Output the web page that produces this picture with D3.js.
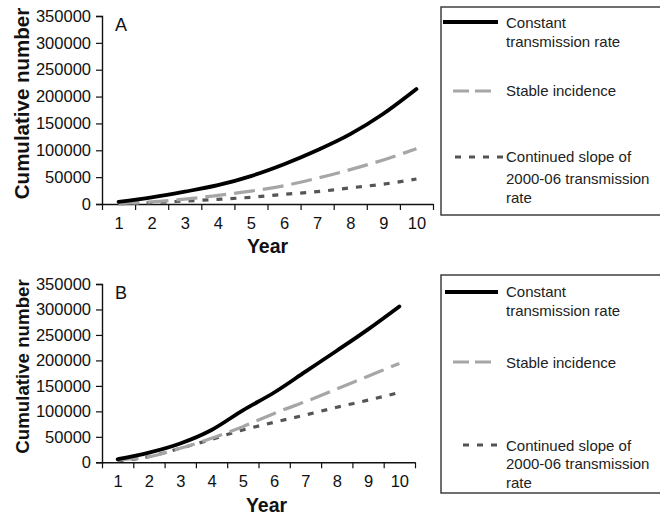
<!DOCTYPE html>
<html><head><meta charset="utf-8">
<script src="https://cdn.jsdelivr.net/npm/d3@7"></script>
<style>
html,body{margin:0;padding:0;background:#fff;}
svg{display:block;font-family:"Liberation Sans",Arial,sans-serif;}
</style></head>
<body>
<svg id="chart" width="660" height="516"></svg>
<script>
const years = [1,2,3,4,5,6,7,8,9,10];
const yTicks = [0,50000,100000,150000,200000,250000,300000,350000];
const seriesNames = ["Constant transmission rate","Stable incidence","Continued slope of 2000-06 transmission rate"];
const legendLines = [["Constant","transmission rate"],["Stable incidence"],["Continued slope of","2000-06 transmission","rate"]];
const panelLabels = ["A","B"];
// Panel A
const aConstant = [4000,12500,23000,35000,52000,74000,100000,130000,168000,214000];
const aStable   = [1000,4000,9000,16000,24000,34000,48000,64000,82000,103000];
const aSlope    = [500,2500,5500,8700,12500,18000,23000,30000,37000,46500];
// Panel B
const bConstant = [6000,19000,37000,63500,102000,137000,178000,219000,261000,306000];
const bStable   = [4500,11000,27500,47000,70000,96000,119000,144000,169000,194000];
const bSlope    = [3000,11000,27500,45000,63500,78500,93000,108000,122000,137000];

const styles = [
  {stroke:"#000", width:3.8, dash:null},
  {stroke:"#a6a6a6", width:3.2, dash:"21,8"},
  {stroke:"#555", width:3.2, dash:"6,8"}
];

const svg = d3.select("#chart");

const panels = [
  {label:panelLabels[0], data:[aConstant,aStable,aSlope], x0:102, x1:433, y0:204, y1:16,
   titleSize:20.5, titleCy:103.5, yearBase:253, lblOff:13,
   legend:{x:441,y:7,h:208, samples:[[443,498,22],[453,492,91],[455,503,157]],
     baselines:[[28,46.5],[95.5],[162,183.5,203]]}},
  {label:panelLabels[1], data:[bConstant,bStable,bSlope], x0:102, x1:415, y0:462.3, y1:284,
   titleSize:18.7, titleCy:366.5, yearBase:512, lblOff:12.5,
   legend:{x:441,y:275,h:218, samples:[[445,498,292],[453,492,362],[463,503,445]],
     baselines:[[297,315.5],[367.5],[450.5,469,488]]}}
];

panels.forEach(p => {
  const x = d3.scaleLinear().domain([0.5,10.5]).range([p.x0,p.x1]);
  const y = d3.scaleLinear().domain([0,350000]).range([p.y0,p.y1]);
  const g = svg.append("g");

  // y axis
  const ya = g.append("g").attr("transform",`translate(${p.x0},0)`)
    .call(d3.axisLeft(y).tickValues(yTicks).tickFormat(d3.format("d")).tickSize(6).tickPadding(5));
  ya.selectAll("text").attr("font-size",16.5).attr("fill","#111").attr("font-family","Liberation Sans, Arial, sans-serif");
  ya.select(".domain").attr("stroke","#111").attr("stroke-width",1.4);
  ya.selectAll(".tick line").attr("stroke","#111").attr("stroke-width",1.2);

  // x axis tick marks between categories
  const xt = g.append("g").attr("transform",`translate(0,${p.y0})`)
    .call(d3.axisBottom(x).tickValues(d3.range(0.5,11,1)).tickFormat("").tickSize(6).tickSizeOuter(0));
  xt.select(".domain").attr("stroke","#111").attr("stroke-width",1.4);
  xt.selectAll(".tick line").attr("stroke","#111").attr("stroke-width",1.2);
  // x labels
  const xl = g.append("g").attr("transform",`translate(0,${p.y0})`)
    .call(d3.axisBottom(x).tickValues(years).tickSize(0).tickPadding(p.lblOff));
  xl.select(".domain").remove();
  xl.selectAll("text").attr("font-size",16.5).attr("fill","#111").attr("font-family","Liberation Sans, Arial, sans-serif");

  // titles
  g.append("text").attr("transform",`translate(28.5,${p.titleCy}) rotate(-90)`)
    .attr("text-anchor","middle").attr("font-weight","bold").attr("font-size",p.titleSize)
    .attr("fill","#111").text("Cumulative number");
  g.append("text").attr("x",(p.x0+p.x1)/2 + (p.label==="A"?0:8)).attr("y",p.yearBase)
    .attr("text-anchor","middle").attr("font-weight","bold").attr("font-size",19.5)
    .attr("fill","#111").text("Year");
  g.append("text").attr("x",115).attr("y",y(350000)+15).attr("font-size",18).attr("fill","#111").text(p.label);

  // lines
  const line = d3.line().x((d,i)=>x(years[i])).y(d=>y(d)).curve(d3.curveMonotoneX);
  [2,1,0].forEach(k => {
    g.append("path").datum(p.data[k]).attr("d",line).attr("fill","none")
      .attr("stroke",styles[k].stroke).attr("stroke-width",styles[k].width)
      .attr("stroke-dasharray",styles[k].dash).attr("stroke-linecap", k===0?"round":"butt");
  });

  // legend
  const L = p.legend;
  g.append("rect").attr("x",L.x).attr("y",L.y).attr("width",260).attr("height",L.h)
    .attr("fill","#fff").attr("stroke","#333").attr("stroke-width",1.4);
  seriesNames.forEach((name,k) => {
    const s = L.samples[k];
    g.append("line").attr("x1",s[0]).attr("x2",s[1]).attr("y1",s[2]).attr("y2",s[2])
      .attr("stroke",styles[k].stroke).attr("stroke-width",styles[k].width)
      .attr("stroke-dasharray", k===1 ? "16,6" : styles[k].dash);
    legendLines[k].forEach((t,j) => {
      g.append("text").attr("x",506).attr("y",L.baselines[k][j]).attr("font-size",15)
        .attr("fill","#222").text(t);
    });
  });
});
</script>
</body></html>
